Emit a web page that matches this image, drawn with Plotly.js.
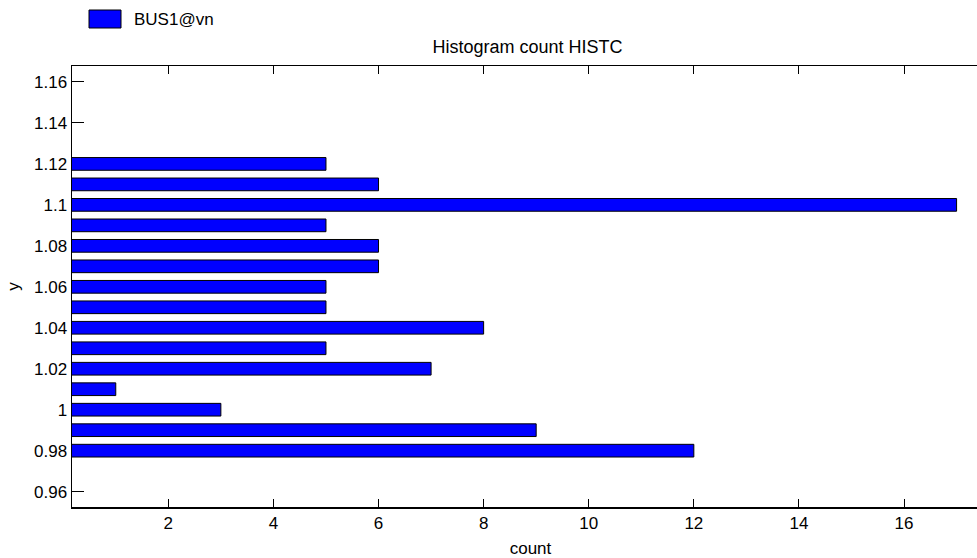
<!DOCTYPE html>
<html>
<head>
<meta charset="utf-8">
<script src="https://cdn.plot.ly/plotly-3.0.1.min.js"></script>
<style>
html,body{margin:0;padding:0;background:#fff;overflow:hidden;width:977px;height:558px;}
#chart{width:989px;height:558px;}
</style>
</head>
<body>
<div id="chart"></div>
<script>
const seriesName = "BUS1@vn";
const binCenters = [0.98, 0.99, 1.00, 1.01, 1.02, 1.03, 1.04, 1.05, 1.06, 1.07, 1.08, 1.09, 1.10, 1.11, 1.12];
const counts =     [12,   9,    3,    1,    7,    5,    8,    5,    5,    6,    6,    5,    17,   6,    5];
const yTickVals = [0.96, 0.98, 1.00, 1.02, 1.04, 1.06, 1.08, 1.10, 1.12, 1.14, 1.16];
const yTickText = ["0.96", "0.98", "1", "1.02", "1.04", "1.06", "1.08", "1.1", "1.12", "1.14", "1.16"];
const xTickVals = [2, 4, 6, 8, 10, 12, 14, 16];

const FS = 17;
const font = {family: "Liberation Sans, Arial, sans-serif", size: FS, color: "#000"};
const W = 989, H = 558, ML = 72, MT = 66, MB = 51;
const PW = W - ML, PH = H - MT - MB;

const trace = {
  type: "bar",
  orientation: "h",
  name: seriesName,
  y: binCenters,
  x: counts,
  width: 0.0062,
  marker: {color: "#0000ff", line: {color: "#000", width: 1}},
  showlegend: false
};

const layout = {
  width: W, height: H,
  paper_bgcolor: "#fff", plot_bgcolor: "#fff",
  font: font,
  margin: {l: ML, r: 0, t: MT, b: MB, pad: 0},
  title: {text: "Histogram count HISTC", font: {family: font.family, size: 18, color: "#000"},
          x: 527.5/W, xanchor: "center", y: 1 - 47/H, yanchor: "middle"},
  showlegend: false,
  shapes: [{
    type: "rect", xref: "paper", yref: "paper",
    x0: (89-ML)/PW, x1: (121-ML)/PW, y0: 1 + (MT-28)/PH, y1: 1 + (MT-10)/PH,
    fillcolor: "#0000ff", line: {color: "#000", width: 1}
  }],
  annotations: [{
    text: seriesName, xref: "paper", yref: "paper",
    x: (132-ML)/PW, y: 1 + (MT-19)/PH, xanchor: "left", yanchor: "middle",
    showarrow: false, font: font
  }],
  xaxis: {
    range: [0.167, 17.617], tickvals: xTickVals, ticks: "inside", ticklen: 8, tickcolor: "#000",
    showline: true, linecolor: "#000", linewidth: 1.5, mirror: "ticks", layer: "below traces",
    showgrid: false, zeroline: false, tickfont: font, automargin: false,
    title: {text: "count", font: font, standoff: 12}
  },
  yaxis: {
    range: [0.9525, 1.1678], tickvals: yTickVals, ticktext: yTickText, ticks: "inside", ticklen: 12, tickcolor: "#000",
    showline: true, linecolor: "#000", linewidth: 1.5, mirror: "ticks", layer: "below traces",
    showgrid: false, zeroline: false, tickfont: font, automargin: false,
    title: {text: "y", font: font, standoff: 10}
  },
  bargap: 0
};

Plotly.newPlot("chart", [trace], layout, {displayModeBar: false, staticPlot: true});
</script>
</body>
</html>
